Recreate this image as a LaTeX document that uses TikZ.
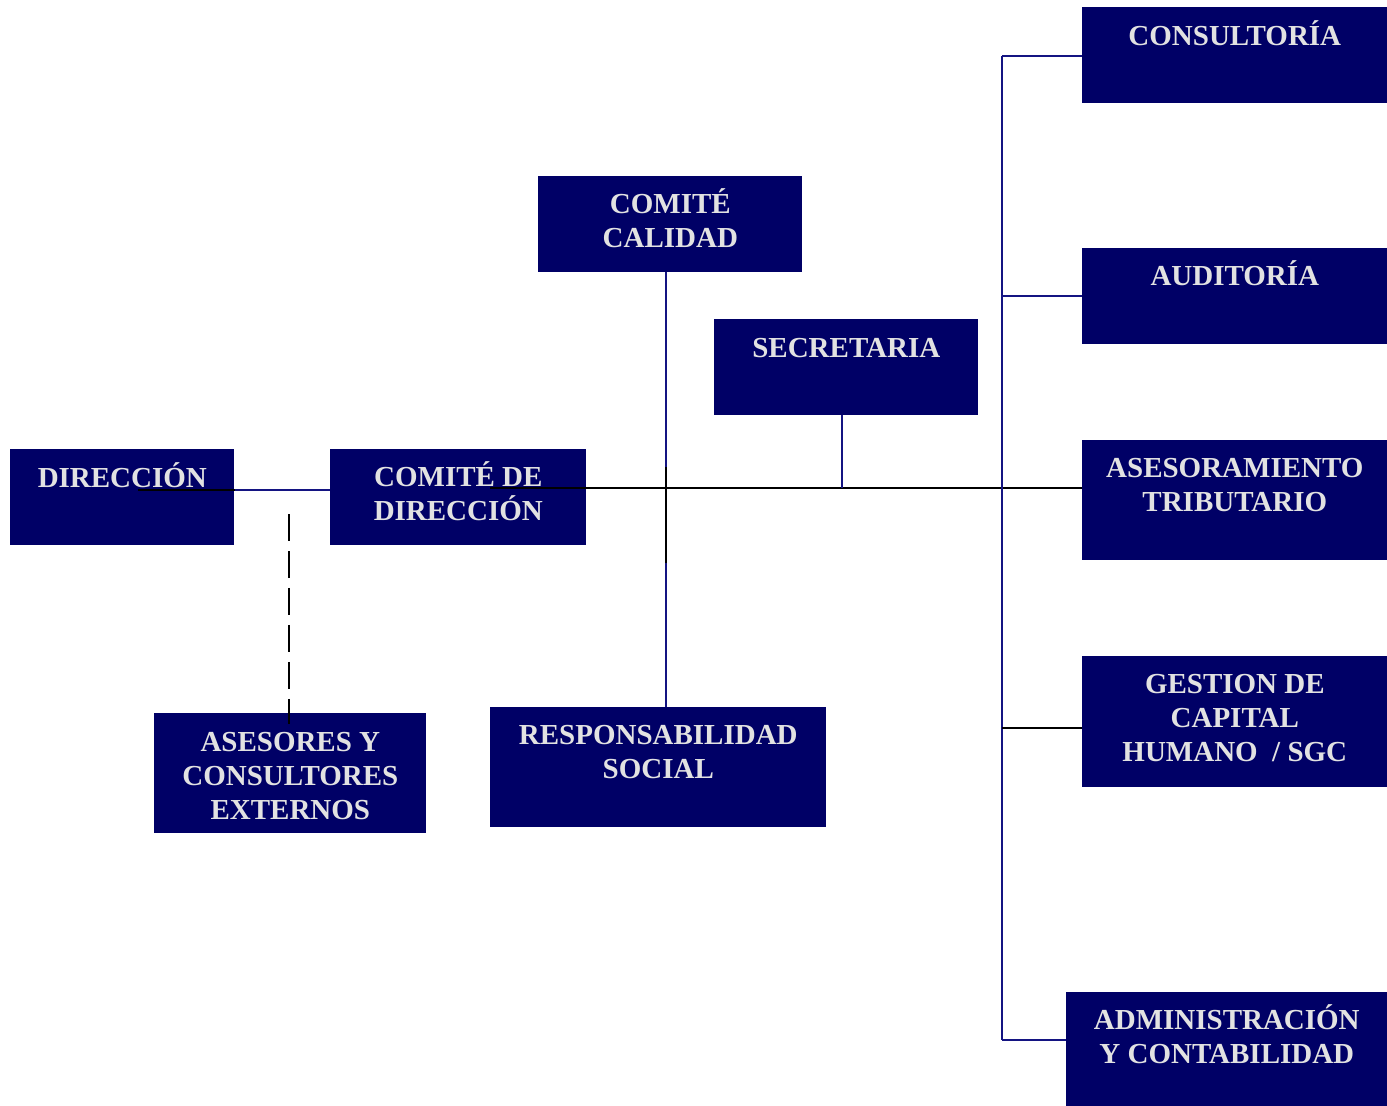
\documentclass[tikz,border=0pt]{standalone}
\usepackage{fontspec}
\setmainfont{Liberation Serif}
\usetikzlibrary{calc}
\definecolor{boxnavy}{RGB}{0,0,102}
\definecolor{linenavy}{RGB}{20,20,130}
\definecolor{boxtext}{RGB}{226,226,226}
\newcommand{\orgtext}[1]{\parbox[t]{7cm}{\centering #1}}
\tikzset{
  orgbox/.style={fill=boxnavy, draw=none, anchor=north west, inner sep=0pt},
  orglabel/.style={text=boxtext, anchor=base, inner sep=0pt,
    font=\fontsize{16.5}{19.6}\selectfont\bfseries},
  navyline/.style={draw=linenavy, line width=1.1pt},
  blackline/.style={draw=black, line width=1.2pt},
  dashline/.style={draw=black, line width=0.9pt, dash pattern=on 0.54cm off 0.2cm}
}
\begin{document}
\begin{tikzpicture}[x=0.02cm,y=-0.02cm]
                \useasboundingbox (0,0) rectangle (1387,1106);

                % Boxes on the left and in the middle
                \node [orgbox, minimum width=4.48cm, minimum height=1.92cm] (dir) at (10,449) {};
                \node [orgbox, minimum width=5.12cm, minimum height=1.92cm] (comdir) at (330,449) {};
                \node [orgbox, minimum width=5.28cm, minimum height=1.92cm] (comcal) at (538,176) {};
                \node [orgbox, minimum width=5.28cm, minimum height=1.92cm] (secr) at (714,319) {};
                \node [orgbox, minimum width=5.44cm, minimum height=2.4cm] (ases) at (154,713) {};
                \node [orgbox, minimum width=6.72cm, minimum height=2.4cm] (resp) at (490,707) {};

                % Boxes on the right
                \node [orgbox, minimum width=6.1cm, minimum height=1.92cm] (cons) at (1082,7) {};
                \node [orgbox, minimum width=6.1cm, minimum height=1.92cm] (audi) at (1082,248) {};
                \node [orgbox, minimum width=6.1cm, minimum height=2.4cm] (aseso) at (1082,440) {};
                \node [orgbox, minimum width=6.1cm, minimum height=2.62cm] (gest) at (1082,656) {};
                \node [orgbox, minimum width=6.42cm, minimum height=2.28cm] (admin) at (1066,992) {};

                % Texts of the boxes
                \node [orglabel] (tdir) at ($(dir.north)+(0,38)$) {\orgtext{DIRECCIÓN}};
                \node [orglabel] (tcomdir) at ($(comdir.north)+(0,37)$) {\orgtext{COMITÉ DE\\DIRECCIÓN}};
                \node [orglabel] (tcomcal) at ($(comcal.north)+(0,37)$) {\orgtext{COMITÉ\\CALIDAD}};
                \node [orglabel] (tsecr) at ($(secr.north)+(0,38)$) {\orgtext{SECRETARIA}};
                \node [orglabel] (tases) at ($(ases.north)+(0,38)$) {\orgtext{ASESORES Y\\CONSULTORES\\EXTERNOS}};
                \node [orglabel] (tresp) at ($(resp.north)+(0,37)$) {\orgtext{RESPONSABILIDAD\\SOCIAL}};
                \node [orglabel] (tcons) at ($(cons.north)+(0,38)$) {\orgtext{CONSULTORÍA}};
                \node [orglabel] (taudi) at ($(audi.north)+(0,37)$) {\orgtext{AUDITORÍA}};
                \node [orglabel] (taseso) at ($(aseso.north)+(0,37)$) {\orgtext{ASESORAMIENTO\\TRIBUTARIO}};
                \node [orglabel] (tgest) at ($(gest.north)+(0,37)$) {\orgtext{GESTION DE\\CAPITAL\\HUMANO \ / SGC}};
                \node [orglabel] (tadmin) at ($(admin.north)+(0,37)$) {\orgtext{ADMINISTRACIÓN\\Y CONTABILIDAD}};

                % Junction points
                \coordinate (jdir) at (138,490);
                \coordinate (jmain) at (490,488);
                \coordinate (jcal) at (666,272);
                \coordinate (jcalA) at (666,467);
                \coordinate (jcalB) at (666,563);
                \coordinate (jsec) at (842,415);
                \coordinate (jbus) at (1002,56);
                \coordinate (jases) at (289,514);

                % Drawing line DIRECCION - COMITE DE DIRECCION
                \draw [blackline] (jdir) -- (dir.east |- jdir);
                \draw [navyline] (dir.east |- jdir) -- (comdir.west |- jdir);

                % Drawing main line
                \draw [blackline] (jmain) -- (aseso.west |- jmain);

                % Drawing line COMITE CALIDAD - RESPONSABILIDAD SOCIAL
                \draw [navyline] (jcal) -- (jcal |- resp.north);
                \draw [blackline] (jcalA) -- (jcalB);

                % Drawing line SECRETARIA
                \draw [navyline] (jsec) -- (jsec |- jmain);

                % Drawing right bus
                \draw [navyline] (jbus) -- (jbus |- 0,1040);
                \draw [navyline] (jbus) -- (cons.west |- jbus);
                \draw [navyline] (jbus |- audi.west) -- (audi.west);
                \draw [blackline] (jbus |- 0,728) -- (gest.west |- 0,728);
                \draw [navyline] (jbus |- 0,1040) -- (admin.west |- 0,1040);

                % Drawing dashed line ASESORES
                \draw [dashline] (jases) -- ($(jases |- ases.north)+(0,11)$);
\end{tikzpicture}
\end{document}
